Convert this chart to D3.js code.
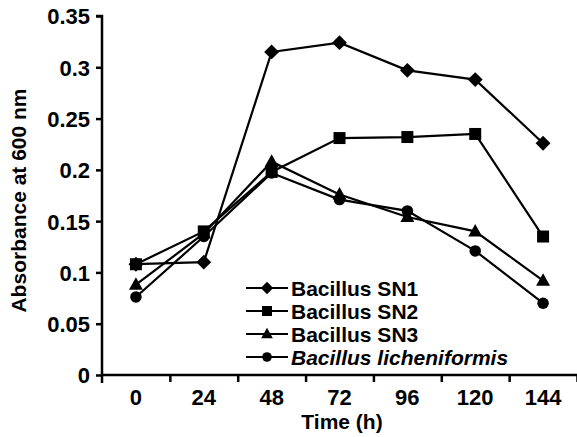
<!DOCTYPE html>
<html><head><meta charset="utf-8">
<script src="https://cdn.jsdelivr.net/npm/d3@7"></script>
<style>body{margin:0;background:#fff}svg{display:block}text{font-family:"Liberation Sans",Arial,sans-serif;font-weight:bold;fill:#000}</style>
</head><body>
<script>
const categories = ["0","24","48","72","96","120","144"];
const sn1 = [0.108,0.110,0.315,0.324,0.297,0.288,0.226];
const sn2 = [0.108,0.140,0.198,0.231,0.232,0.235,0.135];
const sn3 = [0.088,0.138,0.208,0.176,0.154,0.140,0.092];
const lich = [0.076,0.135,0.197,0.171,0.160,0.121,0.070];
const yTicks = [0,0.05,0.1,0.15,0.2,0.25,0.3,0.35];
const seriesNames = ["Bacillus SN1","Bacillus SN2","Bacillus SN3","Bacillus licheniformis"];
const series = [
  {name:seriesNames[0], values:sn1, sym:"diamond"},
  {name:seriesNames[1], values:sn2, sym:"square"},
  {name:seriesNames[2], values:sn3, sym:"triangle"},
  {name:seriesNames[3], values:lich, sym:"circle", italic:true}
];

const W=577,H=437;
const svg=d3.select("body").append("svg").attr("width",W).attr("height",H);
const x0=102, x1=577, yTop=16, yBot=375;
const xBand=d3.scaleBand().domain(categories).range([x0,x1]).padding(0);
const xLin=d3.scaleLinear().domain([0,categories.length]).range([x0,x1]);
const y=d3.scaleLinear().domain([0,0.35]).range([yBot,yTop]);
const xc=c=>xBand(c)+xBand.bandwidth()/2;

function symPath(sym,size){
  const s=size;
  if(sym==="diamond") return `M0,${-s*0.62}L${s*0.62},0L0,${s*0.62}L${-s*0.62},0Z`;
  if(sym==="square") return `M${-s/2},${-s/2}h${s}v${s}h${-s}Z`;
  if(sym==="triangle") return `M0,${-s*0.62}L${s*0.58},${s*0.42}L${-s*0.58},${s*0.42}Z`;
  return d3.arc()({innerRadius:0,outerRadius:s*0.48,startAngle:0,endAngle:2*Math.PI});
}

const line=d3.line().x((d,i)=>xc(categories[i])).y(d=>y(d));
const order=[0,3,1,2];
order.forEach(k=>{
  const s=series[k];
  svg.append("path").attr("d",line(s.values)).attr("fill","none").attr("stroke","#000").attr("stroke-width",2.2);
});
order.forEach(k=>{
  const s=series[k];
  svg.append("g").selectAll("path").data(s.values).join("path")
    .attr("transform",(d,i)=>`translate(${xc(categories[i])},${y(d)})`)
    .attr("d",symPath(s.sym,12)).attr("fill","#000");
});

// Y axis
const gy=svg.append("g").attr("transform",`translate(${x0},0)`)
  .call(d3.axisLeft(y).tickValues(yTicks).tickSize(6).tickPadding(6).tickFormat(d=>String(+d.toFixed(2))));
gy.select(".domain").attr("stroke","#000").attr("stroke-width",2.5).attr("d",`M-6,${yTop}H0V${yBot+8}`);
gy.selectAll(".tick line").attr("stroke","#000").attr("stroke-width",2.5);
gy.selectAll("text").attr("font-size",22).attr("dy","0.36em");

// X axis boundary ticks
const gxt=svg.append("g").attr("transform",`translate(0,${yBot})`)
  .call(d3.axisBottom(xLin).tickValues(d3.range(1,categories.length+1)).tickSize(7).tickFormat(""));
gxt.select(".domain").attr("stroke","#000").attr("stroke-width",2.5).attr("d",`M${x0},0H${x1}`);
gxt.selectAll(".tick line").attr("stroke","#000").attr("stroke-width",2.5);
const gx=svg.append("g").attr("transform",`translate(0,${yBot})`)
  .call(d3.axisBottom(xBand).tickSize(0).tickPadding(14));
gx.select(".domain").remove();
gx.selectAll("text").attr("font-size",22);

svg.append("text").attr("x",342).attr("y",429).attr("text-anchor","middle").attr("font-size",21).text("Time (h)");
svg.append("text").attr("transform",`translate(26,${(yTop+yBot)/2+5}) rotate(-90)`).attr("text-anchor","middle").attr("font-size",21).text("Absorbance at 600 nm");

// Legend
const lg=svg.append("g");
series.forEach((s,i)=>{
  const ly=288+i*23;
  lg.append("line").attr("x1",246).attr("x2",288).attr("y1",ly).attr("y2",ly).attr("stroke","#000").attr("stroke-width",2.2);
  lg.append("path").attr("transform",`translate(267,${ly})`).attr("d",symPath(s.sym,10)).attr("fill","#000");
  lg.append("text").attr("x",291).attr("y",ly).attr("dy","0.36em").attr("font-size",21)
    .attr("font-style",s.italic?"italic":"normal").text(s.name);
});
</script>
</body></html>
